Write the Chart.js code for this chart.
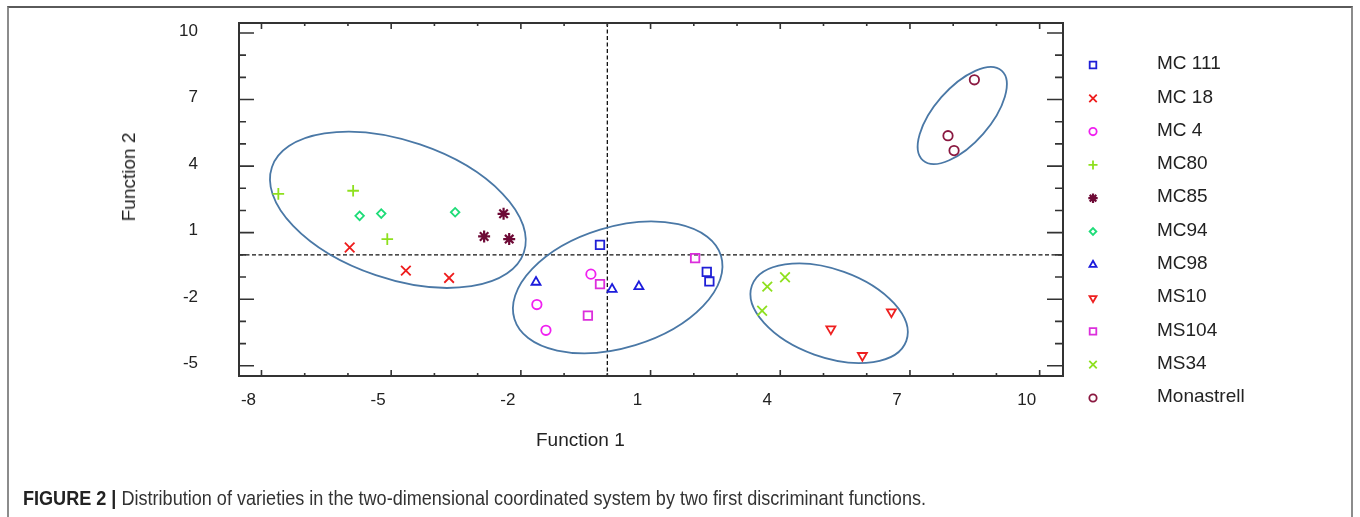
<!DOCTYPE html>
<html>
<head>
<meta charset="utf-8">
<script src="https://cdn.jsdelivr.net/npm/chart.js@4.4.1/dist/chart.umd.min.js"></script>
<style>
html,body{margin:0;padding:0;background:#fff;width:1360px;height:517px;overflow:hidden;}
#frame{position:absolute;left:7px;top:6px;width:1346px;height:600px;border-left:2px solid #8c8c8c;border-top:2px solid #5a5a5a;border-right:2px solid #8c8c8c;box-sizing:border-box;}
#c{position:absolute;left:0;top:0;}
.t{position:absolute;font-family:'Liberation Sans',Arial,sans-serif;color:#222;font-size:19px;line-height:22px;white-space:nowrap;}
#xt{left:536px;top:429px;}
#yt{left:129px;top:177px;transform:translate(-50%,-50%) rotate(-90deg);}
#cap{left:23px;top:486px;font-size:21px;line-height:24px;color:#333;transform-origin:0 50%;}
#cap b{color:#222;}
</style>
</head>
<body>
<div id="frame"></div>
<canvas id="c" width="1360" height="517"></canvas>
<div class="t" id="xt">Function 1</div>
<div class="t" id="yt">Function 2</div>
<div class="t" id="cap"><b>FIGURE 2 |</b> Distribution of varieties in the two-dimensional coordinated system by two first discriminant functions.</div>
<script>
// ---- data ----
const varieties = ['MC 111','MC 18','MC 4','MC80','MC85','MC94','MC98','MS10','MS104','MS34','Monastrell'];
const mc111 = [[-0.17,0.45],[2.30,-0.77],[2.36,-1.20]];
const mc18 = [[-5.96,0.33],[-4.66,-0.71],[-3.66,-1.04]];
const mc4 = [[-0.38,-0.87],[-1.63,-2.24],[-1.42,-3.40]];
const mc80 = [[-7.61,2.75],[-5.88,2.89],[-5.09,0.71]];
const mc85 = [[-2.40,1.85],[-2.85,0.83],[-2.27,0.71]];
const mc94 = [[-5.73,1.76],[-5.23,1.86],[-3.52,1.92]];
const mc98 = [[-1.65,-1.23],[0.11,-1.55],[0.73,-1.43]];
const ms10 = [[6.57,-2.57],[5.17,-3.34],[5.90,-4.54]];
const ms104 = [[-0.17,-1.32],[-0.45,-2.74],[2.03,-0.15]];
const ms34 = [[3.70,-1.43],[4.11,-1.01],[3.58,-2.52]];
const monastrell = [[8.49,7.89],[7.88,5.37],[8.02,4.70]];
const seriesValues = [mc111, mc18, mc4, mc80, mc85, mc94, mc98, ms10, ms104, ms34, monastrell];
const xTickLabels = [-8,-5,-2,1,4,7,10];
const yTickLabels = [-5,-2,1,4,7,10];

// ---- styles ----
const styles = [
  {pointStyle:'rect', color:'#1f1fd6', radius:6, bw:1.8},
  {pointStyle:'crossRot', color:'#ee1c1c', radius:6.8, bw:1.8},
  {pointStyle:'circle', color:'#f020f0', radius:4.7, bw:1.8},
  {pointStyle:'cross', color:'#8ee01e', radius:5.8, bw:1.8},
  {pointStyle:'star', color:'#6e0a36', radius:6, bw:2.2},
  {pointStyle:'rectRot', color:'#1edc78', radius:4.3, bw:1.8},
  {pointStyle:'triangle', color:'#1c1cdc', radius:5.2, bw:1.8},
  {pointStyle:'triangle', rotation:180, color:'#ee2020', radius:5.2, bw:1.8},
  {pointStyle:'rect', color:'#dc2edc', radius:6, bw:1.8},
  {pointStyle:'crossRot', color:'#8ee01e', radius:6.8, bw:1.8},
  {pointStyle:'circle', color:'#8a1840', radius:4.7, bw:1.8}
];
// group ellipses: centre in data units, radii in px, rotation in degrees
const groups = [
  {cx:-4.845, cy:2.03, rx:133, ry:69, angle:18.7},
  {cx:0.24, cy:-1.465, rx:108, ry:60.4, angle:-17},
  {cx:5.13, cy:-2.63, rx:82, ry:44, angle:19.7},
  {cx:8.21, cy:6.28, rx:59.7, ry:27.8, angle:-48.8}
];

const datasets = varieties.map((name,i)=>({
  label:name,
  data: seriesValues[i].map(p=>({x:p[0], y:p[1]})),
  pointStyle: styles[i].pointStyle,
  rotation: styles[i].rotation || 0,
  pointRadius: styles[i].radius,
  pointBorderWidth: styles[i].bw,
  borderColor: styles[i].color,
  backgroundColor: 'rgba(255,255,255,0)',
  pointHoverRadius: styles[i].radius
}));

function intRange(a,b){const r=[];for(let v=a;v<=b;v++)r.push({value:v});return r;}
const tickFont = {family:"'Liberation Sans', Arial, sans-serif", size:17};

const decor = {
  id:'decor',
  beforeDatasetsDraw(chart){
    const {ctx, chartArea:a, scales:{x,y}} = chart;
    ctx.save();
    ctx.strokeStyle = '#111'; ctx.lineWidth = 1.3; ctx.setLineDash([4,2.5]);
    ctx.beginPath();
    const x0 = x.getPixelForValue(0), y0 = y.getPixelForValue(0);
    ctx.moveTo(x0, a.top); ctx.lineTo(x0, a.bottom);
    ctx.moveTo(a.left, y0); ctx.lineTo(a.right, y0);
    ctx.stroke();
    ctx.setLineDash([]);
    ctx.strokeStyle = '#4a78a6'; ctx.lineWidth = 1.8;
    groups.forEach(g=>{
      ctx.beginPath();
      ctx.ellipse(x.getPixelForValue(g.cx), y.getPixelForValue(g.cy), g.rx, g.ry, g.angle*Math.PI/180, 0, Math.PI*2);
      ctx.stroke();
    });
    ctx.restore();
  },
  afterDraw(chart){
    const {ctx, chartArea:a, scales:{x,y}} = chart;
    ctx.save();
    ctx.strokeStyle = '#333'; ctx.lineWidth = 2;
    ctx.strokeRect(a.left, a.top, a.right-a.left, a.bottom-a.top);
    ctx.lineWidth = 1.6;
    ctx.beginPath();
    x.ticks.forEach(t=>{
      const px = x.getPixelForValue(t.value);
      const len = xTickLabels.includes(t.value) ? 6 : 3;
      ctx.moveTo(px, a.bottom); ctx.lineTo(px, a.bottom-len);
      ctx.moveTo(px, a.top); ctx.lineTo(px, a.top+len);
    });
    y.ticks.forEach(t=>{
      const py = y.getPixelForValue(t.value);
      const major = yTickLabels.includes(t.value);
      ctx.moveTo(a.left, py); ctx.lineTo(a.left+(major?15:7), py);
      ctx.moveTo(a.right, py); ctx.lineTo(a.right-(major?16:8), py);
    });
    ctx.stroke();
    // legend
    const lx = 1093, tx = 1157, ly0 = 65, step = 33.3;
    ctx.font = "19px 'Liberation Sans', Arial, sans-serif";
    ctx.textBaseline = 'middle';
    ctx.textAlign = 'left';
    chart.data.datasets.forEach((ds,i)=>{
      const yy = ly0 + i*step;
      ctx.strokeStyle = ds.borderColor;
      ctx.fillStyle = 'rgba(255,255,255,0)';
      ctx.lineWidth = ds.pointBorderWidth;
      Chart.helpers.drawPoint(ctx, {pointStyle:ds.pointStyle, rotation:ds.rotation, radius:ds.pointRadius*0.78, borderWidth:ds.pointBorderWidth}, lx, yy);
      ctx.fillStyle = '#222';
      ctx.fillText(ds.label, tx, yy - 1);
    });
    ctx.restore();
  }
};

new Chart(document.getElementById('c'), {
  type:'scatter',
  data:{datasets},
  options:{
    responsive:false,
    devicePixelRatio:1,
    animation:false,
    layout:{padding:{left:0, top:23, right:297, bottom:0}},
    plugins:{legend:{display:false}, tooltip:{enabled:false}},
    scales:{
      x:{
        type:'linear', position:'bottom', min:-8.52, max:10.54,
        afterBuildTicks:s=>{s.ticks = intRange(-8,10);},
        afterFit:s=>{s.height = 141; s.paddingLeft = 0; s.paddingRight = 0;},
        grid:{display:false, drawTicks:false},
        border:{display:false},
        ticks:{autoSkip:false, maxRotation:0, padding:14, labelOffset:-13, font:tickFont, color:'#222',
          callback:v=> xTickLabels.includes(v) ? String(v) : ''}
      },
      y:{
        type:'linear', position:'left', min:-5.46, max:10.45,
        afterBuildTicks:s=>{s.ticks = intRange(-5,10);},
        afterFit:s=>{s.width = 239; s.paddingTop = 0; s.paddingBottom = 0;},
        grid:{display:false, drawTicks:false},
        border:{display:false},
        ticks:{autoSkip:false, padding:41, labelOffset:-2, font:tickFont, color:'#222',
          callback:v=> yTickLabels.includes(v) ? String(v) : ''}
      }
    }
  },
  plugins:[decor]
});

const cap = document.getElementById('cap');
const w = cap.getBoundingClientRect().width;
cap.style.transform = 'scaleX(' + (903 / w) + ')';
</script>
</body>
</html>
